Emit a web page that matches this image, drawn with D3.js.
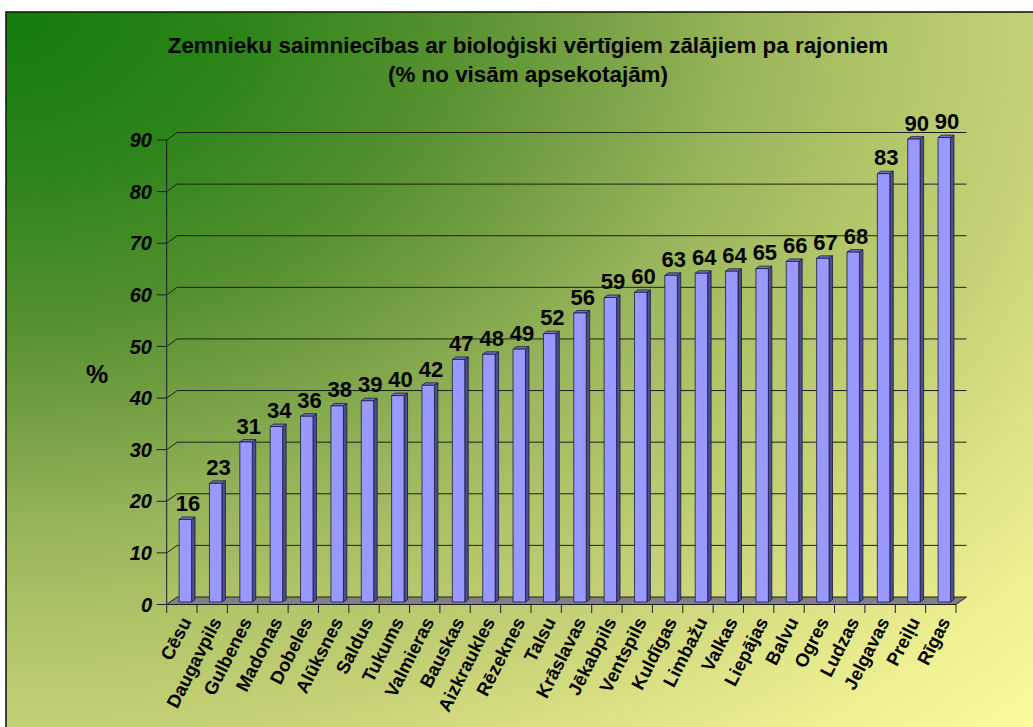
<!DOCTYPE html>
<html>
<head>
<meta charset="utf-8">
<script src="https://cdn.jsdelivr.net/npm/d3@7/dist/d3.min.js"></script>
<style>
  html, body { margin: 0; padding: 0; background: #ffffff; }
  svg { display: block; }
  text { font-family: Arial, "Liberation Sans", sans-serif; }
</style>
</head>
<body>
<svg id="chart" width="1033" height="727"></svg>
<script>
// ---- data ----
const categories = ["Cēsu","Daugavpils","Gulbenes","Madonas","Dobeles","Alūksnes","Saldus","Tukums","Valmieras","Bauskas","Aizkraukles","Rēzeknes","Talsu","Krāslavas","Jēkabpils","Ventspils","Kuldīgas","Limbažu","Valkas","Liepājas","Balvu","Ogres","Ludzas","Jelgavas","Preiļu","Rīgas"];
const values = [16, 23, 31, 34, 36, 38, 39, 40, 42, 47, 48, 49, 52, 56, 59, 60, 63.3, 63.7, 64.1, 64.6, 66, 66.6, 67.8, 83, 89.7, 90];
const yTicks = [0, 10, 20, 30, 40, 50, 60, 70, 80, 90];
const titleLines = ["Zemnieku saimniecības ar bioloģiski vērtīgiem zālājiem pa rajoniem", "(% no visām apsekotajām)"];
const yAxisTitle = "%";

// ---- layout ----
const W = 1033, H = 727;
const svg = d3.select("#chart");
const X0 = 166.7, X1 = 956;
const DX = 10.5, DY = -7.5;          // depth offset of back wall
const BF = 0.33, BB = 0.66;          // bar front/back depth fraction

const x = d3.scaleBand().domain(categories).range([X0, X1]).padding(0);
const y = d3.scaleLinear().domain([0, 90]).range([604.5, 140]);

// background: gradient radiating from the top-left corner
const defs = svg.append("defs");
const grad = defs.append("radialGradient").attr("id", "bg")
  .attr("gradientUnits", "objectBoundingBox")
  .attr("cx", 0).attr("cy", 0).attr("fx", 0).attr("fy", 0).attr("r", 1.414);
[[0, "#137c0c"], [0.15, "#2a8418"], [0.3, "#54902e"], [0.42, "#7ca448"], [0.5, "#98b45a"],
 [0.6, "#b0c468"], [0.7, "#c4d076"], [0.8, "#dce286"], [0.9, "#f0f292"], [1, "#fcfc9c"]]
  .forEach(([o, c]) => grad.append("stop").attr("offset", o).attr("stop-color", c));

svg.append("rect").attr("x", 6).attr("y", 12).attr("width", W).attr("height", H)
  .attr("fill", "url(#bg)").attr("stroke", "#1a1a1a").attr("stroke-width", 1.6);

// title
const title = svg.append("text").attr("text-anchor", "middle")
  .attr("font-weight", "bold").attr("font-size", 22.4).attr("fill", "#000");
title.append("tspan").attr("x", 528).attr("y", 53).text(titleLines[0]);
title.append("tspan").attr("x", 528).attr("y", 82).text(titleLines[1]);

// floor
const y0 = y(0);
svg.append("path")
  .attr("d", `M${X0},${y0} L${X1},${y0} L${X1 + DX},${y0 + DY} L${X0 + DX},${y0 + DY} Z`)
  .attr("fill", "#808080").attr("stroke", "#222").attr("stroke-width", 1);

// gridlines (side wall diagonal + back wall)
const grid = svg.append("g").attr("fill", "none").attr("stroke", "#1e1e1e").attr("stroke-width", 1);
yTicks.filter(v => v > 0).forEach(v => {
  const yy = y(v);
  grid.append("path").attr("d", `M${X0},${yy} L${X0 + DX},${yy + DY} L${X1 + DX},${yy + DY}`);
});

// y axis
const axis = svg.append("g").attr("stroke", "#1e1e1e").attr("stroke-width", 1);
axis.append("line").attr("x1", X0).attr("x2", X0).attr("y1", y(90)).attr("y2", y0);
yTicks.forEach(v => {
  axis.append("line").attr("x1", X0 - 10).attr("x2", X0).attr("y1", y(v)).attr("y2", y(v));
});
svg.append("g").selectAll("text").data(yTicks).join("text")
  .attr("x", 152).attr("y", d => y(d)).attr("dy", "0.36em")
  .attr("text-anchor", "end").attr("font-weight", "bold").attr("font-style", "italic")
  .attr("font-size", 20).text(d => d);

// x axis line and ticks
axis.append("line").attr("x1", X0).attr("x2", X1).attr("y1", y0).attr("y2", y0);
d3.range(categories.length + 1).forEach(i => {
  const xx = X0 + i * x.step();
  axis.append("line").attr("x1", xx).attr("x2", xx).attr("y1", y0).attr("y2", y0 + 8.5);
});

// y axis title
svg.append("text").attr("x", 97).attr("y", 374).attr("dy", "0.36em")
  .attr("text-anchor", "middle").attr("font-weight", "bold").attr("font-size", 25)
  .text(yAxisTitle);

// bars
const bw = x.bandwidth() * 0.41;
const fdx = DX * BF, fdy = DY * BF;
const bdx = DX * BB, bdy = DY * BB;
const bars = svg.append("g").attr("stroke", "#1a1a40").attr("stroke-width", 0.8).attr("stroke-linejoin", "round");
categories.forEach((c, i) => {
  const v = values[i];
  const cx = x(c) + x.bandwidth() / 2;
  const l = cx - bw / 2 + fdx, r = cx + bw / 2 + fdx;
  const t = y(v) + fdy, b = y0 + fdy;
  const ddx = bdx - fdx, ddy = bdy - fdy;
  // side face
  bars.append("path").attr("d", `M${r},${t} L${r + ddx},${t + ddy} L${r + ddx},${b + ddy} L${r},${b} Z`)
    .attr("fill", "#4d4d8f");
  // top face
  bars.append("path").attr("d", `M${l},${t} L${l + ddx},${t + ddy} L${r + ddx},${t + ddy} L${r},${t} Z`)
    .attr("fill", "#7373c8");
  // front face
  bars.append("rect").attr("x", l).attr("y", t).attr("width", r - l).attr("height", b - t)
    .attr("fill", "#9999ff");
});

// value labels
svg.append("g").selectAll("text").data(categories).join("text")
  .attr("x", c => x(c) + x.bandwidth() / 2 + (fdx + bdx) / 2 + 1)
  .attr("y", (c, i) => y(values[i]) + bdy - 6)
  .attr("text-anchor", "middle").attr("font-weight", "bold").attr("font-size", 22)
  .text((c, i) => Math.round(values[i]));

// category labels
svg.append("g").selectAll("text").data(categories).join("text")
  .attr("transform", c => `translate(${x(c) + x.bandwidth() / 2 + 4},${y0 + 14}) rotate(-63)`)
  .attr("dy", "0.36em")
  .attr("text-anchor", "end").attr("font-weight", "bold").attr("font-size", 18.5)
  .text(c => c);
</script>
</body>
</html>
